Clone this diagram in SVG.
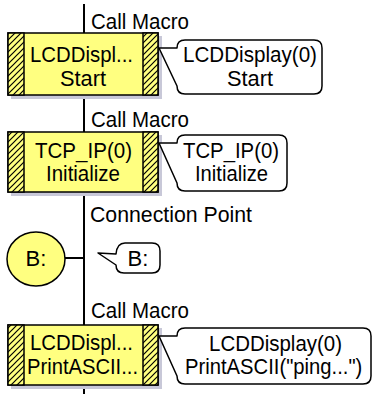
<svg xmlns="http://www.w3.org/2000/svg" width="374" height="394" viewBox="0 0 374 394">
<style>
text{font-family:"Liberation Sans",Arial,sans-serif;font-size:22px;fill:#000}
.mid{text-anchor:middle}
.box{fill:#ffff80;stroke:#000;stroke-width:1.5}
.panel{fill:url(#hatch);stroke:#000;stroke-width:1.5}
.shadow{fill:#c8c8d8}
.call{fill:#fff;stroke:#000;stroke-width:1.5;stroke-linejoin:round}
.flow{stroke:#000;stroke-width:2;fill:none}
</style>
<defs>
<pattern id="hatch" patternUnits="userSpaceOnUse" width="6" height="6">
<rect width="6" height="6" fill="#ffff80"/>
<path d="M-1,7 L7,-1 M-1,1 L1,-1 M5,7 L7,5" stroke="#000" stroke-width="1.2"/>
</pattern>
</defs>
<g id="connectors">
<line class="flow" x1="84" y1="4" x2="84" y2="394"/>
<line class="flow" x1="65" y1="258" x2="84" y2="258"/>
</g>
<g id="labels">
<text x="91" y="29" textLength="98" lengthAdjust="spacingAndGlyphs">Call Macro</text>
<text x="91" y="127" textLength="98" lengthAdjust="spacingAndGlyphs">Call Macro</text>
<text x="90" y="222" textLength="162" lengthAdjust="spacingAndGlyphs">Connection Point</text>
<text x="91" y="318" textLength="98" lengthAdjust="spacingAndGlyphs">Call Macro</text>
</g>
<g id="node1">
<rect class="shadow" x="11" y="36" width="151" height="63"/>
<rect class="box" x="8" y="33" width="150" height="62"/>
<rect class="panel" x="8" y="33" width="16" height="62"/>
<rect class="panel" x="143" y="33" width="15" height="62"/>
<text x="30" y="62" textLength="103" lengthAdjust="spacingAndGlyphs">LCDDispl...</text>
<text class="mid" x="83" y="86" textLength="46" lengthAdjust="spacingAndGlyphs">Start</text>
</g>
<g id="note1">
<path class="call" d="M159,48 L177,48 Q177,40 185,40 L314,40 Q322,40 322,48 L322,86 Q322,94 314,94 L185,94 Q177,94 177,86 Z"/>
<text x="183" y="62" textLength="134" lengthAdjust="spacingAndGlyphs">LCDDisplay(0)</text>
<text class="mid" x="250" y="86" textLength="46" lengthAdjust="spacingAndGlyphs">Start</text>
</g>
<g id="node2">
<rect class="shadow" x="11" y="135" width="151" height="61"/>
<rect class="box" x="8" y="132" width="150" height="60"/>
<rect class="panel" x="8" y="132" width="16" height="60"/>
<rect class="panel" x="143" y="132" width="15" height="60"/>
<text x="35" y="158" textLength="97" lengthAdjust="spacingAndGlyphs">TCP_IP(0)</text>
<text x="46" y="181" textLength="74" lengthAdjust="spacingAndGlyphs">Initialize</text>
</g>
<g id="note2">
<path class="call" d="M159,143 L177,143 Q177,135 185,135 L279,135 Q287,135 287,143 L287,183 Q287,191 279,191 L185,191 Q177,191 177,183 Z"/>
<text x="183" y="158" textLength="96" lengthAdjust="spacingAndGlyphs">TCP_IP(0)</text>
<text x="195" y="181" textLength="73" lengthAdjust="spacingAndGlyphs">Initialize</text>
</g>
<g id="node3">
<ellipse class="box" cx="36" cy="259" rx="29" ry="27"/>
<text class="mid" x="36" y="266">B:</text>
</g>
<g id="note3">
<path class="call" d="M98,253 L116,254 Q117,243 125,243 L152,243 Q160,243 160,251 L160,265 Q160,273 152,273 L124,273 Q116,273 116,265 Z"/>
<text class="mid" x="138" y="266">B:</text>
</g>
<g id="node4">
<rect class="shadow" x="11" y="328" width="151" height="61"/>
<rect class="box" x="8" y="325" width="150" height="60"/>
<rect class="panel" x="8" y="325" width="16" height="60"/>
<rect class="panel" x="143" y="325" width="15" height="60"/>
<text x="30" y="350" textLength="103" lengthAdjust="spacingAndGlyphs">LCDDispl...</text>
<text x="27" y="374" textLength="111" lengthAdjust="spacingAndGlyphs">PrintASCII...</text>
</g>
<g id="note4">
<path class="call" d="M159,336 L177,336 Q177,328 185,328 L363,328 Q371,328 371,336 L371,376 Q371,384 363,384 L185,384 Q177,384 177,376 Z"/>
<text x="209" y="351" textLength="133" lengthAdjust="spacingAndGlyphs">LCDDisplay(0)</text>
<text transform="translate(185,374) scale(0.92,1)">PrintASCII("ping...")</text>
</g>
</svg>
